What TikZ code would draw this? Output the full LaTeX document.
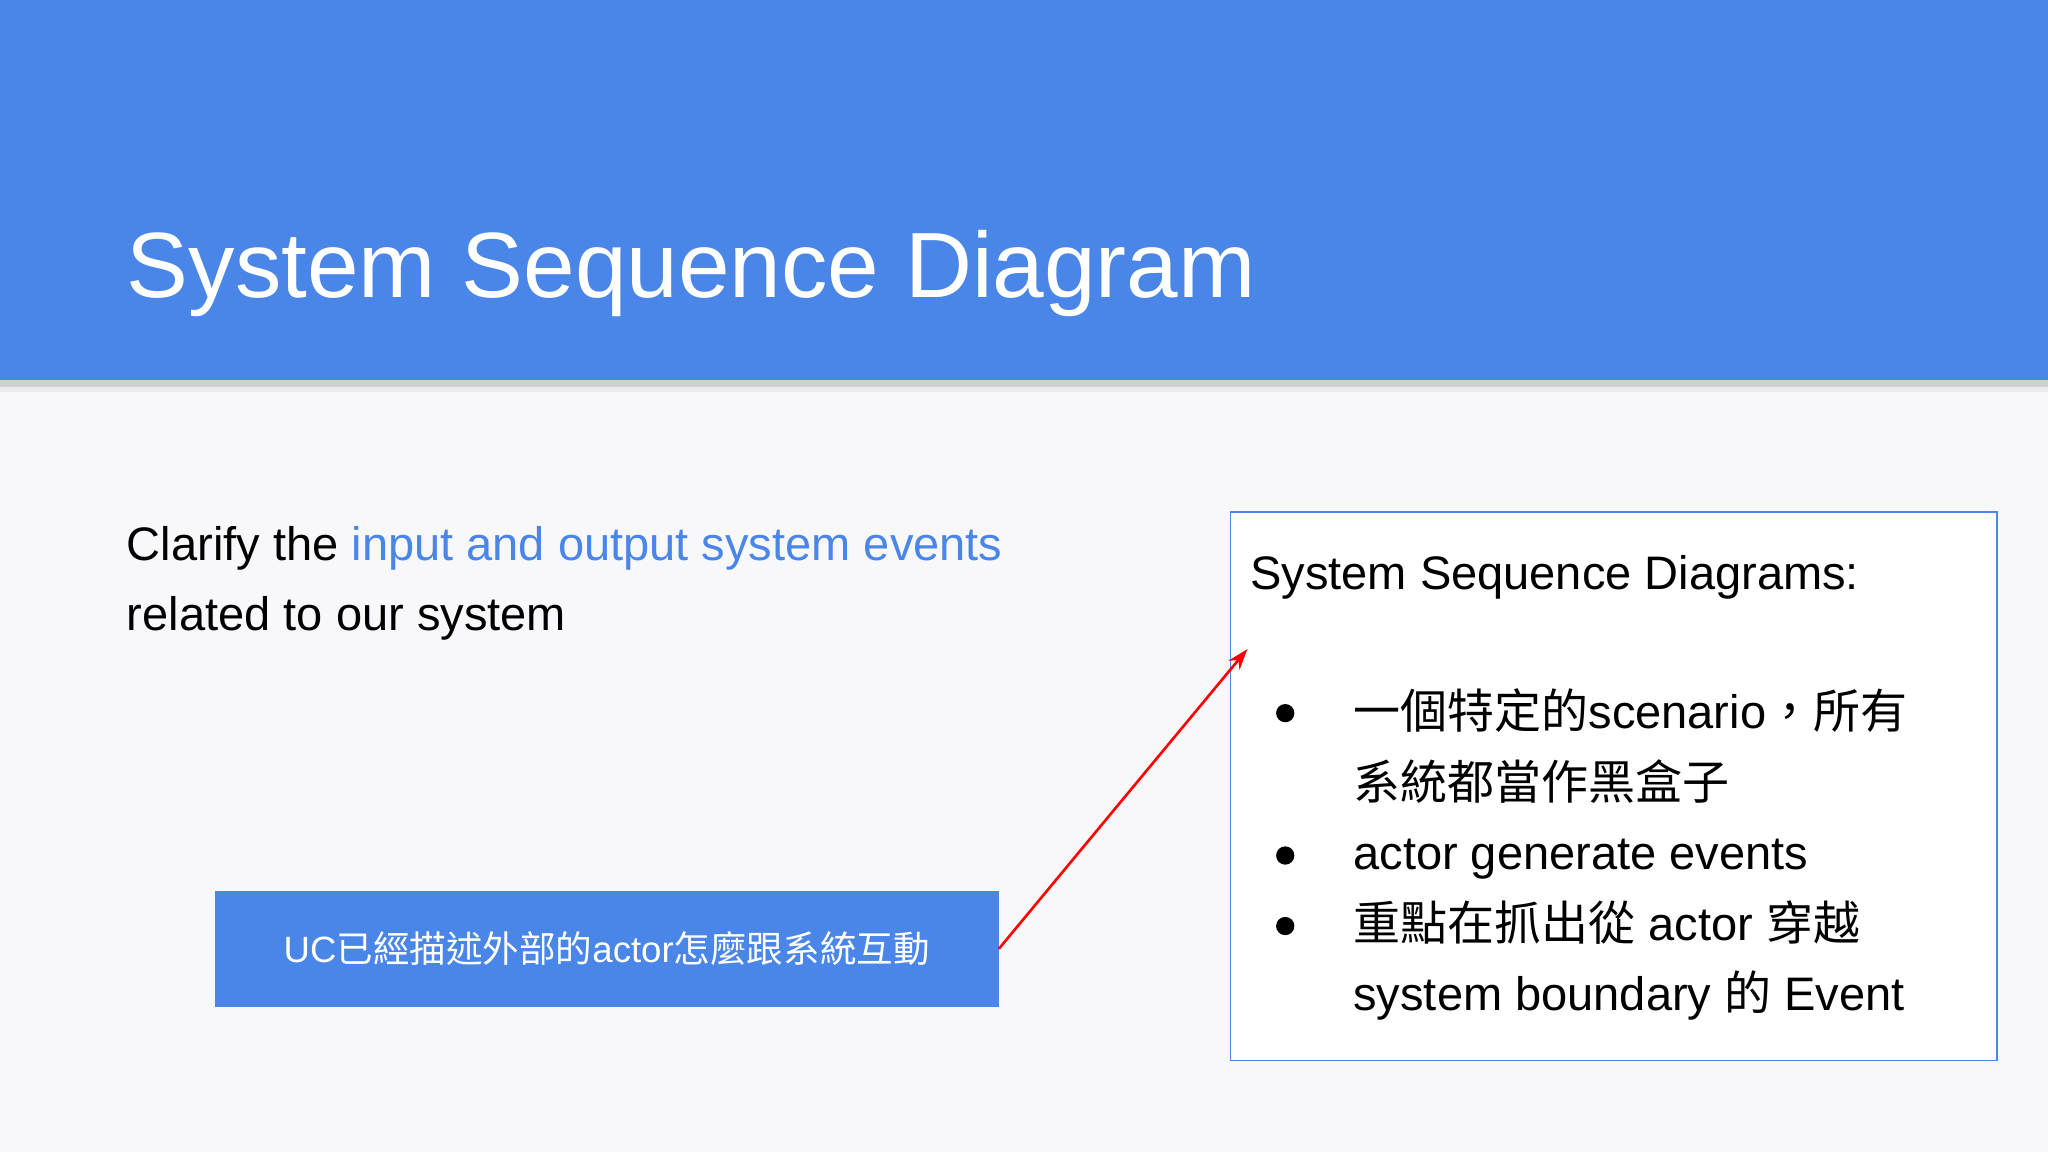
\documentclass[tikz,border=0pt]{standalone}
\usepackage{fontspec}
\usetikzlibrary{arrows.meta}
\setmainfont{Liberation Sans}
\newfontfamily\cjk{Noto Sans CJK TC}
\definecolor{band}{HTML}{4A86E8}
\definecolor{bg}{HTML}{F8F8FB}
\begin{document}
\begin{tikzpicture}[x=1pt,y=-1pt,
  txt/.style={anchor=base west,inner sep=0,font=\fontsize{36}{40}\selectfont},
  dot/.style={circle,fill=black,inner sep=0,minimum size=14}]
\useasboundingbox (0,0) rectangle (1568,882);
\fill[bg] (0,0) rectangle (1568,882);
\fill[black!18] (0,290) rectangle (1568,296);
\fill[black!8] (0,296) rectangle (1568,300);
\fill[band] (0,0) rectangle (1568,291);
\node[anchor=base west,inner sep=0,text=white,font=\fontsize{71}{80}\selectfont] (title) at (97,228) {System Sequence Diagram};
\node[txt] (l1) at (97,429) {Clarify the \textcolor{band}{input and output system events}};
\node[txt] (l2) at (97,483) {related to our system};
\node[draw=none,fill=band,minimum width=600,minimum height=89,inner sep=0,text=white,font=\fontsize{28}{32}\selectfont] (uc) at (464.5,726.5) {UC\cjk 已經描述外部的\rmfamily actor\cjk 怎麼跟系統互動};
\draw[draw=band,fill=white,line width=1.2] (942,392) rectangle (1529,812);
\node[txt] (h) at (957,451) {System Sequence Diagrams:};
\coordinate (tip) at (955,497);
\node[dot] (b1) at (984,546) {};
\node[dot] (b2) at (984,655) {};
\node[dot] (b3) at (984,709) {};
\node[txt] (t1) at (1036,558) {{\cjk 一個特定的}scenario{\cjk ，所有}};
\node[txt] (t2) at (1036,612) {\cjk 系統都當作黑盒子};
\node[txt] (t3) at (1036,666) {actor generate events};
\node[txt] (t4) at (1036,720) {{\cjk 重點在抓出從} actor {\cjk 穿越}};
\node[txt] (t5) at (1036,774) {system boundary {\cjk 的} Event};
\draw[red,line width=2,-{Stealth[length=16,width=11]}] (uc.east) -- (tip);
\end{tikzpicture}
\end{document}
